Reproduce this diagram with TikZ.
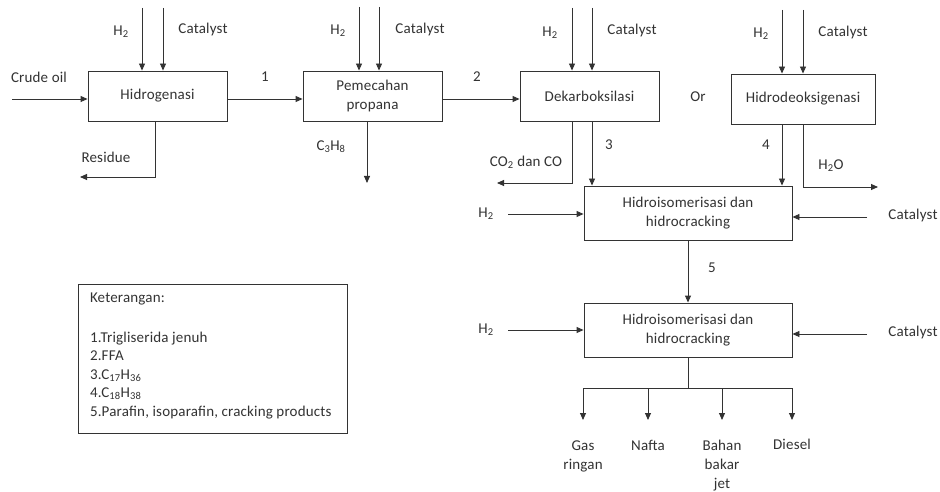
\documentclass[tikz,border=0pt]{standalone}
\usepackage{fontspec}
\setmainfont{Carlito}[LetterSpace=1.2]
\usetikzlibrary{arrows.meta}
\definecolor{ink}{HTML}{333333}
\begin{document}
\begin{tikzpicture}[x=1pt,y=-1pt,
  font=\fontsize{15}{19}\selectfont, color=ink, line width=0.9pt,
  arr/.style={draw=ink,-{Triangle[length=7pt,width=6pt]}},
  ln/.style={draw=ink},
  box/.style={draw=ink, align=center, inner sep=0pt},
  lbl/.style={inner sep=0pt, align=center}]
\useasboundingbox[fill=white] (0,0) rectangle (940,492);

% boxes
\node[box, minimum width=139pt, minimum height=50pt] (hg) at (157.5,96) {Hidrogenasi};
\node[box, minimum width=139pt, minimum height=50pt] (pp) at (372.5,96) {Pemecahan\\propana};
\node[box, minimum width=139pt, minimum height=50pt] (dk) at (589.5,96) {Dekarboksilasi};
\node[box, minimum width=144pt, minimum height=50pt] (hd) at (803,99) {Hidrodeoksigenasi};
\node[box, minimum width=208pt, minimum height=54pt] (hia) at (688,213) {Hidroisomerisasi dan\\hidrocracking};
\node[box, minimum width=208pt, minimum height=54pt] (hib) at (688,330) {Hidroisomerisasi dan\\hidrocracking};
\node[box, minimum width=269pt, minimum height=149pt] (leg) at (212.5,358.5) {};
\node[lbl, anchor=north west, align=left, font=\fontsize{15}{18.5}\selectfont] (legt)
  at ([xshift=12pt,yshift=-9pt]leg.north west)
  {Keterangan:\\[21pt]
   1.Trigliserida jenuh\\
   2.FFA\\
   3.C\textsubscript{17}H\textsubscript{36}\\
   4.C\textsubscript{18}H\textsubscript{38}\\
   5.Parafin, isoparafin, cracking products};

% free ends
\coordinate (co) at (12,99);
\coordinate (hgH) at (142,8);
\coordinate (hgC) at (163,8);
\coordinate (res) at (80,177);
\coordinate (ppH) at (359,7);
\coordinate (ppC) at (379,7);
\coordinate (c3) at (367,183);
\coordinate (dkH) at (572,8);
\coordinate (dkC) at (592,8);
\coordinate (co2) at (497,183);
\coordinate (hdH) at (782,10);
\coordinate (hdC) at (803,10);
\coordinate (h2o) at (878,187);
\coordinate (aH) at (508,214);
\coordinate (aC) at (867,217);
\coordinate (bH) at (508,330);
\coordinate (bC) at (867,334);
\coordinate (split) at (688,388);
\coordinate (p1) at (583,420);
\coordinate (p2) at (648,420);
\coordinate (p3) at (722,420);
\coordinate (p4) at (792,420);

% connectors
\draw[arr] (co) -- (co -| hg.west);
\draw[arr] (hgH) -- (hgH |- hg.north);
\draw[arr] (hgC) -- (hgC |- hg.north);
\draw[arr] ([xshift=-2.5pt]hg.south) |- (res);
\draw[arr] ([yshift=-3pt]hg.east) -- ([yshift=-3pt]pp.west);
\draw[arr] (ppH) -- (ppH |- pp.north);
\draw[arr] (ppC) -- (ppC |- pp.north);
\draw[arr] (c3 |- pp.south) -- (c3);
\draw[arr] ([yshift=-3pt]pp.east) -- ([yshift=-3pt]dk.west);
\draw[arr] (dkH) -- (dkH |- dk.north);
\draw[arr] (dkC) -- (dkC |- dk.north);
\draw[arr] (dkH |- dk.south) |- (co2);
\draw[arr] (dkC |- dk.south) -- (dkC |- hia.north);
\draw[arr] (hdH) -- (hdH |- hd.north);
\draw[arr] (hdC) -- (hdC |- hd.north);
\draw[arr] (hdH |- hd.south) -- (hdH |- hia.north);
\draw[arr] (hdC |- hd.south) |- (h2o);
\draw[arr] (aH) -- (aH -| hia.west);
\draw[arr] (aC) -- (aC -| hia.east);
\draw[arr] (hia.south) -- (hib.north);
\draw[arr] (bH) -- (bH -| hib.west);
\draw[arr] (bC) -- (bC -| hib.east);
\draw[ln] (hib.south) -- (split);
\draw[ln] (p1 |- split) -- (p4 |- split);
\draw[arr] (p1 |- split) -- (p1);
\draw[arr] (p2 |- split) -- (p2);
\draw[arr] (p3 |- split) -- (p3);
\draw[arr] (p4 |- split) -- (p4);

% labels
\node[lbl] (tco) at (39,77) {Crude oil};
\node[lbl] (th1) at (121,32) {H\textsubscript{2}};
\node[lbl] (tc1) at (203,30) {Catalyst};
\node[lbl] (tres) at (106,157) {Residue};
\node[lbl] (t1) at (265,77) {1};
\node[lbl] (th2) at (338,31) {H\textsubscript{2}};
\node[lbl] (tc2) at (420,30) {Catalyst};
\node[lbl] (tc3h8) at (331,147) {C\textsubscript{3}H\textsubscript{8}};
\node[lbl] (t2) at (477,77) {2};
\node[lbl] (th3) at (550,33) {H\textsubscript{2}};
\node[lbl] (tc3) at (632,31) {Catalyst};
\node[lbl] (tco2) at (526,162) {CO\textsubscript{2} dan CO};
\node[lbl] (t3) at (609,145) {3};
\node[lbl] (tor) at (698,97) {Or};
\node[lbl] (th4) at (761,34) {H\textsubscript{2}};
\node[lbl] (tc4) at (843,33) {Catalyst};
\node[lbl] (t4) at (766,145) {4};
\node[lbl] (th2o) at (831,166) {H\textsubscript{2}O};
\node[lbl] (th5) at (486,214) {H\textsubscript{2}};
\node[lbl] (tc5) at (913,216) {Catalyst};
\node[lbl] (t5) at (712,268) {5};
\node[lbl] (th6) at (486,330) {H\textsubscript{2}};
\node[lbl] (tc6) at (913,332) {Catalyst};
\node[lbl, anchor=north] (tgas) at (583,440) {Gas\\ringan};
\node[lbl, anchor=north] (tnaf) at (648,440) {Nafta};
\node[lbl, anchor=north] (tjet) at (722,440) {Bahan\\bakar\\jet};
\node[lbl, anchor=north] (tdie) at (792,439) {Diesel};
\end{tikzpicture}
\end{document}
